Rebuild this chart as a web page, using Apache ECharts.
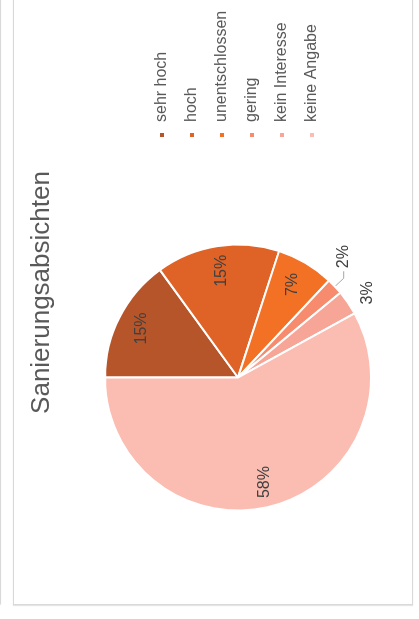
<!DOCTYPE html>
<html>
<head>
<meta charset="utf-8">
<script src="https://cdn.jsdelivr.net/npm/echarts@6/dist/echarts.min.js"></script>
<style>
  html, body { margin: 0; padding: 0; background: #fff; overflow: hidden; }
  body { width: 419px; height: 619px; position: relative; }
  .prev-card {
    position: absolute; left: -400px; top: -20px; width: 399px; height: 622px;
    border: 1px solid #d9d9d9; box-shadow: 0 1px 1px rgba(0,0,0,0.08);
  }
  .card {
    position: absolute; left: 13px; top: -20px; width: 398px; height: 623px;
    border: 1px solid #d9d9d9; box-shadow: 0 1px 1px rgba(0,0,0,0.1);
    background: #fff;
  }
  /* the chart is laid out landscape and turned a quarter turn counter-clockwise */
  #chart {
    position: absolute; left: 13px; top: -20px; width: 625px; height: 400px;
    transform-origin: 0 0; transform: translate(0, 625px) rotate(-90deg);
  }
</style>
</head>
<body>
<div class="prev-card"></div>
<div class="card"></div>
<div id="chart"></div>
<script>
const titleText = 'Sanierungsabsichten';
const categories = ['sehr hoch', 'hoch', 'unentschlossen', 'gering', 'kein Interesse', 'keine Angabe'];
const values = [15, 15, 7, 2, 3, 58];
const colors = ['#B7552A', '#DF6226', '#F37125', '#F68B6D', '#F6A596', '#FBBCB1'];
// slices whose value label sits outside the pie
const outsideLabels = ['gering', 'kein Interesse'];

const FONT = '"Liberation Sans", Arial, sans-serif';
const center = [227.5, 225];
const R = 133;

const mainData = categories.map((name, i) => {
  const outside = outsideLabels.includes(name);
  const item = {
    name, value: values[i],
    itemStyle: { color: colors[i] },
    label: { show: outside }
  };
  if (name === 'gering') item.labelLine = { show: true, length: 12, length2: 7 };
  if (name === 'kein Interesse') item.labelLine = { show: false, length: 20, length2: 0 };
  return item;
});

const labelData = categories.map((name, i) => ({
  name, value: values[i],
  label: { show: !outsideLabels.includes(name) }
}));

const chart = echarts.init(document.getElementById('chart'), null, { renderer: 'canvas' });
chart.setOption({
  animation: false,
  backgroundColor: 'transparent',
  title: {
    text: titleText,
    left: 'center',
    top: 16,
    padding: 0,
    textStyle: { fontFamily: FONT, fontSize: 26, fontWeight: 'normal', color: '#595959' }
  },
  legend: {
    orient: 'vertical',
    left: 466,
    top: 141,
    padding: 0,
    itemWidth: 6,
    itemHeight: 6,
    itemGap: 14,
    icon: 'rect',
    selectedMode: false,
    data: categories,
    textStyle: { fontFamily: FONT, fontSize: 16, lineHeight: 16, color: '#595959', padding: [0, 0, 0, 5] }
  },
  series: [
    {
      type: 'pie',
      center: center,
      radius: [0, R],
      startAngle: 90,
      clockwise: true,
      avoidLabelOverlap: false,
      silent: true,
      emphasis: { disabled: true },
      itemStyle: { borderColor: '#ffffff', borderWidth: 2 },
      label: {
        position: 'outside',
        formatter: '{c}%',
        distanceToLabelLine: 3,
        fontFamily: FONT, fontSize: 16, color: '#404040'
      },
      labelLine: { lineStyle: { color: '#a6a6a6', width: 1 } },
      labelLayout: function (p) {
        if (p.dataIndex === 4) return { dx: -16, dy: 3 };
      },
      data: mainData
    },
    {
      // transparent ring that carries the in-slice value labels
      type: 'pie',
      center: center,
      radius: [77, R],
      startAngle: 90,
      clockwise: true,
      silent: true,
      emphasis: { disabled: true },
      itemStyle: { color: 'transparent', borderWidth: 0 },
      label: {
        position: 'inside',
        formatter: '{c}%',
        fontFamily: FONT, fontSize: 16, color: '#404040'
      },
      labelLine: { show: false },
      data: labelData
    }
  ]
});
</script>
</body>
</html>
